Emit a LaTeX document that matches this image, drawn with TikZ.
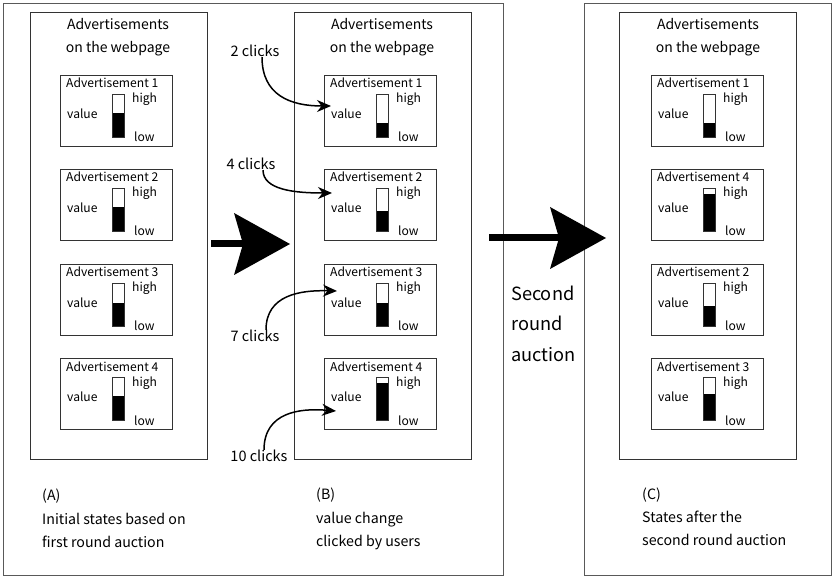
\documentclass[tikz,border=0pt]{standalone}
\usepackage{fontspec}
\setmainfont{Noto Sans CJK JP}
\usetikzlibrary{arrows.meta}

\tikzset{
  frame/.style={draw=black!65, line width=0.9pt},
  panel/.style={draw=black!80, line width=0.9pt, anchor=north west, inner sep=0pt,
    minimum width=177pt, minimum height=447pt},
  adbox/.style={draw=black!80, line width=0.8pt, anchor=north west, inner sep=0pt,
    minimum width=112pt, minimum height=71pt},
  gauge/.style={draw=black!80, line width=0.7pt},
  small/.style={anchor=base west, inner sep=0pt, font=\fontsize{12.1}{14}\selectfont},
  title/.style={anchor=base, inner sep=0pt, font=\fontsize{14}{16}\selectfont},
  label/.style={anchor=base west, inner sep=0pt, font=\fontsize{14.2}{16}\selectfont},
  clicks/.style={inner sep=0pt, font=\fontsize{14.5}{16}\selectfont},
  stage/.style={anchor=base west, inner sep=0pt, font=\fontsize{18.2}{21}\selectfont},
  click/.style={line width=1.5pt, -{Stealth[length=14pt,width=12pt]}},
  bigarrow/.style={line width=7pt, -{Stealth[length=56pt,width=62pt,inset=9pt,line width=0pt]}}
}

\begin{document}
\begin{tikzpicture}[x=1pt,y=-1pt]
\useasboundingbox (0,0) rectangle (833,577);

\draw[frame] (3,3) rectangle (503,575);
\draw[frame] (584,3) rectangle (831,575);

\node[panel] (pa) at (30,12) {};
\node[panel] (pb) at (294,12) {};
\node[panel] (pc) at (619,12) {};

\foreach \p/\x in {a/118, b/382, c/708} {
  \node[title] at (\x,30) {Advertisements};
  \node[title] at (\x,53) {on the webpage};
}

\foreach \p/\x/\y/\k/\f in {a/60/75/1/.55, a/60/169/2/.55, a/60/264/3/.53, a/60/358/4/.56,
    b/324/75/1/.33, b/324/169/2/.47, b/324/264/3/.53, b/324/358/4/.86,
    c/651/75/1/.33, c/651/169/4/.86, c/651/264/2/.47, c/651/358/3/.61} {
  \begin{scope}[shift={(\x,\y)}]
    \node[adbox] (ad-\p\k) at (0,0) {};
    \node[small] at (6,13) {Advertisement \k};
    \node[small] at (7,44) {value};
    \node[small] at (72,28) {high};
    \node[small] at (74,67) {low};
    \fill (52,62) rectangle (64,{62-43*\f});
    \draw[gauge] (52,19) rectangle (64,62);
  \end{scope}
}

\node[clicks] (c2) at (255,51) {2 clicks};
\node[clicks] (c4) at (251,164) {4 clicks};
\node[clicks] (c7) at (255,336) {7 clicks};
\node[clicks] (c10) at (259,456) {10 clicks};

\coordinate (t2) at (331,106);
\coordinate (t4) at (332,193);
\coordinate (t7) at (337,291);
\coordinate (t10) at (336,411);

\draw[click] ([xshift=7pt]c2.south) .. controls (262,95) and (290,106) .. (t2);
\draw[click] ([xshift=12pt]c4.south) .. controls (263,190) and (295,193) .. (t4);
\draw[click] ([xshift=11pt]c7.north) .. controls (266,295) and (300,290) .. (t7);
\draw[click] ([xshift=5pt]c10.north) .. controls (264,412) and (300,408) .. (t10);

\coordinate (s1) at (211,244);
\coordinate (e1) at (290,244);
\coordinate (s2) at (489,238);
\coordinate (e2) at (606,238);
\draw[bigarrow] (s1) -- (e1);
\draw[bigarrow] (s2) -- (e2);

\node[stage] (st1) at (511,301) {Second};
\node[stage] (st2) at (511,331) {round};
\node[stage] (st3) at (511,362) {auction};

\node[label] (la1) at (42,500) {(A)};
\node[label] (la2) at (42,524) {Initial states based on};
\node[label] (la3) at (42,547) {first round auction};
\node[label] (lb1) at (316,499) {(B)};
\node[label] (lb2) at (316,523) {value change};
\node[label] (lb3) at (316,546) {clicked by users};
\node[label] (lc1) at (642,499) {(C)};
\node[label] (lc2) at (642,522) {States after the};
\node[label] (lc3) at (642,545) {second round auction};
\end{tikzpicture}
\end{document}
